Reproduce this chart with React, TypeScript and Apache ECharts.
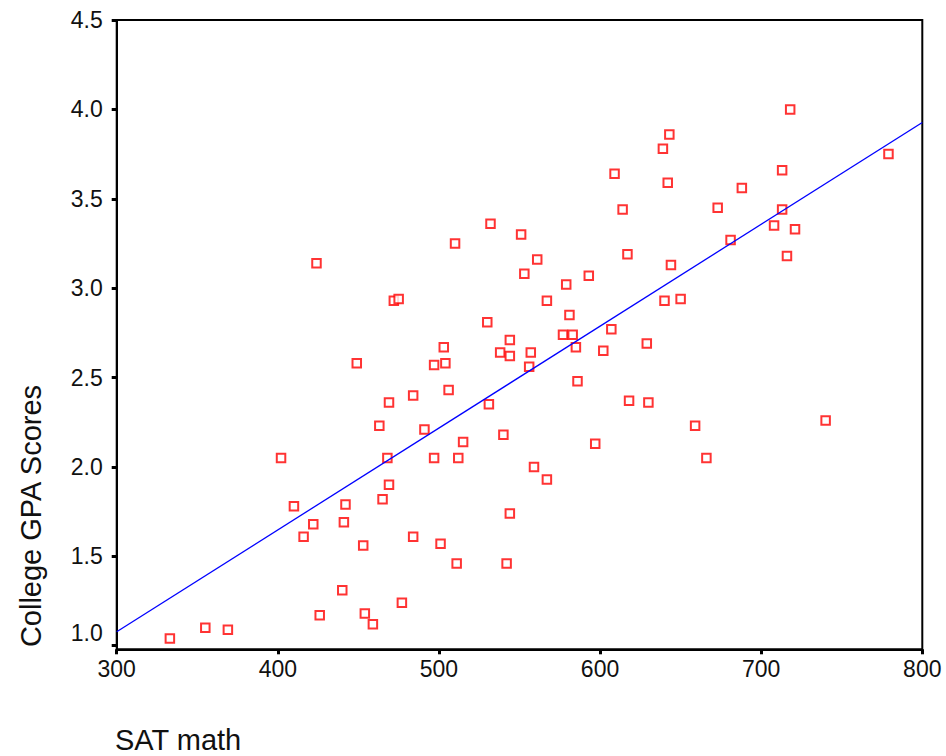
import React, { useEffect, useRef } from "react";
import * as echarts from "echarts";

// SAT math score and college GPA for each student
const satMath: number[] = [
  333, 355, 369, 402, 410, 416, 422, 424, 426, 440, 441, 442, 449, 453, 454, 459,
  463, 465, 468, 469, 469, 472, 475, 477, 484, 484, 491, 497, 497, 501, 503, 504,
  506, 510, 511, 512, 515, 530, 531, 532, 538, 540, 542, 544, 544, 544, 551, 553,
  556, 557, 559, 561, 567, 567, 577, 579, 581, 583, 585, 586, 593, 597, 602, 607,
  609, 614, 617, 618, 629, 630, 639, 640, 642, 643, 644, 650, 659, 666, 673, 681,
  688, 708, 713, 713, 716, 718, 721, 740, 779,
];
const collegeGpa: number[] = [
  1.04, 1.1, 1.09, 2.05, 1.78, 1.61, 1.68, 3.14, 1.17, 1.31, 1.69, 1.79, 2.58, 1.56, 1.18, 1.12,
  2.23, 1.82, 2.05, 1.9, 2.36, 2.93, 2.94, 1.24, 2.4, 1.61, 2.21, 2.57, 2.05, 1.57, 2.67, 2.58,
  2.43, 3.25, 1.46, 2.05, 2.14, 2.81, 2.35, 3.36, 2.64, 2.18, 1.46, 2.71, 2.62, 1.74, 3.3, 3.08,
  2.56, 2.64, 2.0, 3.16, 2.93, 1.93, 2.74, 3.02, 2.85, 2.74, 2.67, 2.48, 3.07, 2.13, 2.65, 2.77,
  3.64, 3.44, 3.19, 2.37, 2.69, 2.36, 3.78, 2.93, 3.59, 3.86, 3.13, 2.94, 2.23, 2.05, 3.45, 3.27,
  3.56, 3.35, 3.44, 3.66, 3.18, 4.0, 3.33, 2.26, 3.75,
];

// Fitted regression line, evaluated at the ends of the x range
const fitSat: number[] = [300, 800];
const fitGpa: number[] = [1.078, 3.927];

const yTicks: number[] = [1.0, 1.5, 2.0, 2.5, 3.0, 3.5, 4.0, 4.5];

const FONT = "'Liberation Sans', Arial, sans-serif";

export default function App() {
  const ref = useRef<HTMLDivElement>(null);

  useEffect(() => {
    if (!ref.current) return;
    const chart = echarts.init(ref.current, undefined, { renderer: "svg" });

    const points = satMath.map((x, i) => [x, collegeGpa[i]]);
    const fit = fitSat.map((x, i) => [x, fitGpa[i]]);

    chart.setOption({
      animation: false,
      backgroundColor: "#ffffff",
      grid: {
        left: 116.7,
        right: 23.7,
        top: 20,
        bottom: 106.7,
        show: true,
        borderColor: "#000",
        borderWidth: 2,
        backgroundColor: "transparent",
      },
      xAxis: {
        type: "value",
        min: 300,
        max: 800,
        interval: 100,
        axisLine: { show: true, lineStyle: { color: "#000", width: 2 } },
        axisTick: { show: true, length: 5, lineStyle: { color: "#000", width: 3 } },
        splitLine: { show: false },
        axisLabel: {
          color: "#111",
          fontFamily: FONT,
          fontSize: 23,
          margin: 8,
        },
      },
      yAxis: {
        type: "value",
        min: 0.98,
        max: 4.5,
        axisLine: { show: true, lineStyle: { color: "#000", width: 2 } },
        axisTick: {
          show: true,
          length: 5,
          customValues: yTicks,
          lineStyle: { color: "#000", width: 3 },
        },
        splitLine: { show: false },
        axisLabel: {
          customValues: yTicks,
          color: "#111",
          fontFamily: FONT,
          fontSize: 23,
          margin: 14,
          formatter: (v: number) =>
            Math.abs(v - 1) < 1e-9 ? "{lo|" + v.toFixed(1) + "}" : v.toFixed(1),
          rich: {
            lo: {
              color: "#111",
              fontFamily: FONT,
              fontSize: 23,
              padding: [0, 0, 25, 0],
            },
          },
        },
      },
      series: [
        {
          type: "scatter",
          data: points,
          symbol: "rect",
          symbolSize: 8.5,
          itemStyle: { color: "#ffffff", borderColor: "#ff0000", borderWidth: 2 },
          z: 2,
        },
        {
          type: "line",
          data: fit,
          symbol: "none",
          lineStyle: { color: "#0000ff", width: 1.3 },
          z: 3,
        },
      ],
      graphic: [
        {
          type: "text",
          x: 31,
          y: 516,
          rotation: Math.PI / 2,
          style: {
            text: "College GPA Scores",
            fill: "#111",
            font: `29px ${FONT}`,
            textAlign: "center",
            textVerticalAlign: "middle",
          },
        },
        {
          type: "text",
          x: 115,
          y: 740,
          style: {
            text: "SAT math",
            fill: "#111",
            font: `29px ${FONT}`,
            textAlign: "left",
            textVerticalAlign: "middle",
          },
        },
      ],
    });

    return () => chart.dispose();
  }, []);

  return (
    <div
      ref={ref}
      style={{ position: "fixed", left: 0, top: 0, width: 946, height: 756 }}
    />
  );
}
